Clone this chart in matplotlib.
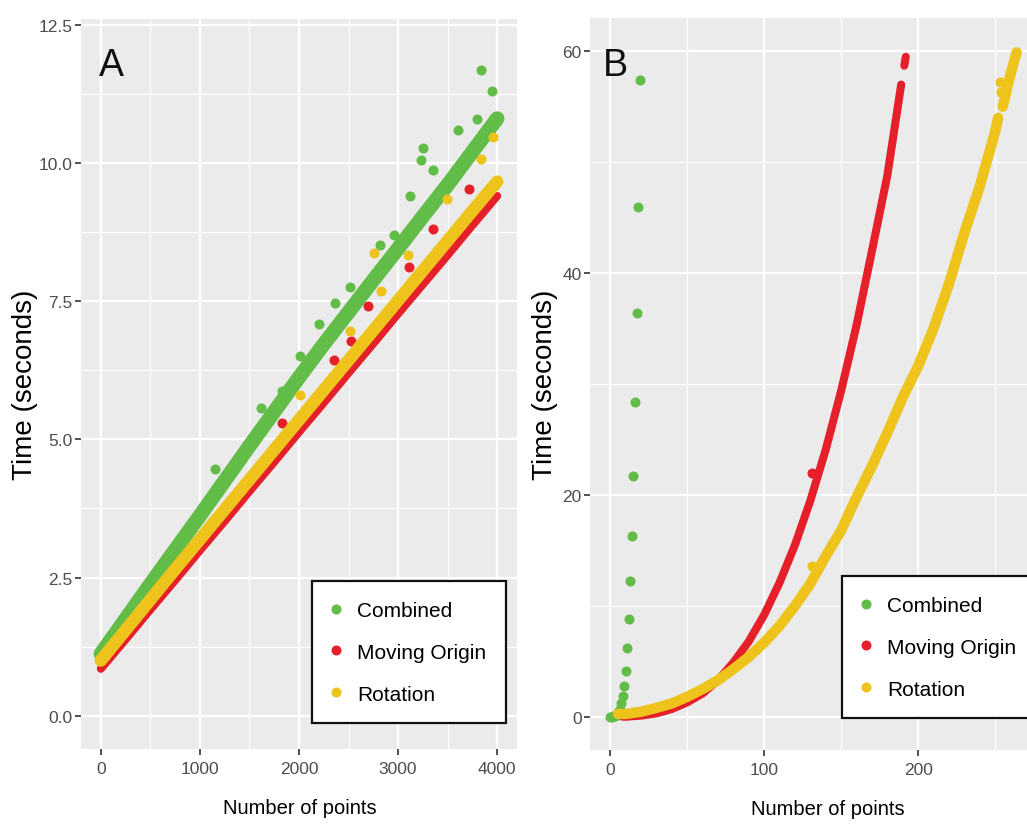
import matplotlib
matplotlib.use("Agg")
import matplotlib.pyplot as plt          # noqa: E402
from matplotlib.lines import Line2D      # noqa: E402
from matplotlib.ticker import FixedLocator  # noqa: E402

GREEN = "#62BD48"
RED = "#E5202A"
YELLOW = "#EDC31C"
PANEL = "#EBEBEB"
FONT = ["Liberation Sans", "DejaVu Sans"]

SERIES = ["Combined", "Moving Origin", "Rotation"]

# -- panel A: dense runs, read every 250 points along the middle of each band
a_x = [0, 250, 500, 750, 1000, 1250, 1500, 1750, 2000,
       2250, 2500, 2750, 3000, 3250, 3500, 3750, 4000]
a_combined = [1.12, 1.75, 2.38, 3.00, 3.62, 4.25, 4.88, 5.50, 6.12,
              6.72, 7.30, 7.88, 8.45, 9.03, 9.60, 10.20, 10.80]
a_moving = [0.85, 1.38, 1.92, 2.45, 2.99, 3.52, 4.06, 4.59, 5.13,
            5.66, 6.20, 6.73, 7.27, 7.80, 8.33, 8.87, 9.40]
a_rotation = [1.00, 1.55, 2.10, 2.65, 3.19, 3.73, 4.27, 4.81, 5.35,
              5.89, 6.43, 6.97, 7.51, 8.05, 8.59, 9.13, 9.66]

# stray points off the bands
a_comb_out_x = [1151, 1618, 1830, 2014, 2199, 2367, 2518, 2820, 2961,
                3122, 3229, 3256, 3357, 3601, 3800, 3834, 3944]
a_comb_out_y = [4.47, 5.57, 5.87, 6.51, 7.08, 7.47, 7.76, 8.52, 8.70,
                9.40, 10.05, 10.27, 9.87, 10.60, 10.79, 11.68, 11.29]
a_mov_out_x = [1830, 2349, 2528, 2692, 3115, 3349, 3716]
a_mov_out_y = [5.30, 6.44, 6.77, 7.41, 8.12, 8.80, 9.52]
a_rot_out_x = [2014, 2518, 2759, 2827, 3105, 3491, 3834, 3955]
a_rot_out_y = [5.81, 6.96, 8.36, 7.68, 8.34, 9.35, 10.06, 10.46]

# -- panel B
b_comb_x = [0, 1, 2, 3, 4, 5, 6, 7, 8, 9, 10,
            11, 12, 13, 14, 15, 16, 17, 18, 19]
b_comb_y = [0.0, 0.0, 0.05, 0.1, 0.2, 0.4, 0.7, 1.2, 1.9, 2.8, 4.1,
            6.2, 8.8, 12.25, 16.3, 21.7, 28.4, 36.4, 46.0, 57.4]

b_mov_x = [8, 10, 20, 30, 40, 50, 60, 70, 80, 90, 100, 110, 120,
           130, 140, 150, 160, 170, 180, 189]
b_mov_y = [0.0, 0.0, 0.1, 0.3, 0.7, 1.3, 2.1, 3.3, 4.9, 6.8, 9.2, 12.1,
           15.5, 19.5, 24.1, 29.4, 35.3, 42.0, 48.8, 57.0]
b_mov_top_x = [191, 192]
b_mov_top_y = [58.7, 59.5]
b_mov_out_x = [131]
b_mov_out_y = [22.0]

b_rot_x = [5, 10, 20, 30, 40, 50, 60, 70, 80, 90, 100, 110, 120, 130,
           140, 150, 160, 170, 180, 190, 200, 210, 220, 230, 240, 250, 252]
b_rot_y = [0.25, 0.25, 0.45, 0.8, 1.2, 1.8, 2.5, 3.3, 4.3, 5.4, 6.7, 8.2,
           10.0, 12.0, 14.5, 16.8, 19.8, 22.6, 25.6, 28.8, 31.6, 35.0,
           39.0, 43.6, 47.8, 52.7, 54.0]
b_rot_top_x = [255, 258, 261, 264]
b_rot_top_y = [55.0, 56.8, 58.4, 59.9]
b_rot_out_x = [131, 253, 254]
b_rot_out_y = [13.6, 57.2, 56.3]


def _style(ax, xlim, ylim, xmajor, xminor, ymajor, yminor, xlabels, ylabels):
    ax.set_facecolor(PANEL)
    for s in ax.spines.values():
        s.set_visible(False)
    ax.set_xlim(*xlim)
    ax.set_ylim(*ylim)
    ax.xaxis.set_major_locator(FixedLocator(xmajor))
    ax.xaxis.set_minor_locator(FixedLocator(xminor))
    ax.yaxis.set_major_locator(FixedLocator(ymajor))
    ax.yaxis.set_minor_locator(FixedLocator(yminor))
    ax.set_xticklabels(xlabels)
    ax.set_yticklabels(ylabels)
    ax.grid(which="major", color="white", lw=1.6)
    ax.grid(which="minor", color="white", lw=0.8)
    ax.set_axisbelow(True)
    ax.tick_params(which="major", length=4, width=1.2, color="#333333",
                   labelcolor="#4D4D4D", labelsize=12.5)
    ax.tick_params(axis="x", which="major", pad=5)
    ax.tick_params(axis="y", which="major", pad=2)
    ax.tick_params(which="minor", length=0)
    for lab in ax.get_xticklabels() + ax.get_yticklabels():
        lab.set_family(FONT)
    ax.set_xlabel("Number of points", family=FONT, fontsize=14.5)
    ax.set_ylabel("Time (seconds)", family=FONT, fontsize=20)


def _legend(fig, anchor):
    handles = [Line2D([0], [0], marker="o", ls="none", color=c, markersize=6.2)
               for c in (GREEN, RED, YELLOW)]
    leg = fig.legend(handles, SERIES, loc="upper left", bbox_to_anchor=anchor,
                     bbox_transform=fig.transFigure, borderaxespad=0,
                     prop={"family": FONT, "size": 15}, frameon=True,
                     fancybox=False, framealpha=1, edgecolor="#111111",
                     borderpad=0.95, handlelength=0.4, handletextpad=0.8,
                     labelspacing=1.1)
    leg.get_frame().set_linewidth(1.6)
    return leg


W, H = 1027, 829
fig = plt.figure(figsize=(W / 100, H / 100), dpi=100)

axA = fig.add_axes([81 / W, 1 - 750 / H, 436 / W, 730 / H])
axB = fig.add_axes([590 / W, 1 - 751 / H, 448.5 / W, 732 / H])

# panel A
axA.plot(a_x, a_combined, color=GREEN, lw=10.5, solid_capstyle="round", zorder=2)
axA.plot(a_comb_out_x, a_comb_out_y, "o", color=GREEN, ms=6.2, zorder=2)
axA.plot(a_x, a_moving, color=RED, lw=5.8, solid_capstyle="round", zorder=3)
axA.plot(a_mov_out_x, a_mov_out_y, "o", color=RED, ms=6.2, zorder=3)
axA.plot(a_x, a_rotation, color=YELLOW, lw=9.0, solid_capstyle="round", zorder=4)
axA.plot(a_rot_out_x, a_rot_out_y, "o", color=YELLOW, ms=6.2, zorder=4)
_style(axA, (-200, 4200), (-0.6, 12.6),
       [0, 1000, 2000, 3000, 4000], [500, 1500, 2500, 3500],
       [0, 2.5, 5, 7.5, 10, 12.5], [1.25, 3.75, 6.25, 8.75, 11.25],
       ["0", "1000", "2000", "3000", "4000"],
       ["0.0", "2.5", "5.0", "7.5", "10.0", "12.5"])
axA.yaxis.set_label_coords(-43 / 436, 0.5)
axA.xaxis.set_label_coords(219 / 436, -49 / 730)
axA.text(18 / 436, 674 / 730, "A", transform=axA.transAxes, family=FONT,
         fontsize=27, va="baseline", ha="left", color="#111111")

# panel B
axB.plot(b_comb_x, b_comb_y, "o", color=GREEN, ms=6.2, zorder=2)
axB.plot(b_mov_x, b_mov_y, color=RED, lw=5.8, solid_capstyle="round", zorder=3)
axB.plot(b_mov_top_x, b_mov_top_y, color=RED, lw=5.8, solid_capstyle="round",
         zorder=3)
axB.plot(b_mov_out_x, b_mov_out_y, "o", color=RED, ms=6.2, zorder=3)
axB.plot(b_rot_x, b_rot_y, color=YELLOW, lw=7.5, solid_capstyle="round", zorder=4)
axB.plot(b_rot_top_x, b_rot_top_y, color=YELLOW, lw=7.5, solid_capstyle="round",
         zorder=4)
axB.plot(b_rot_out_x, b_rot_out_y, "o", color=YELLOW, ms=6.2, zorder=4)
_style(axB, (-13.25, 278.25), (-3, 63),
       [0, 100, 200], [50, 150, 250],
       [0, 20, 40, 60], [10, 30, 50],
       ["0", "100", "200"], ["0", "20", "40", "60"])
axB.yaxis.set_label_coords(-32 / 448.5, 0.5)
axB.xaxis.set_label_coords(238 / 448.5, -49 / 732)
axB.text(13 / 448.5, 675 / 732, "B", transform=axB.transAxes, family=FONT,
         fontsize=27, va="baseline", ha="left", color="#111111")

_legend(fig, (312 / W, 1 - 582 / H))
_legend(fig, (842 / W, 1 - 577 / H))

fig.savefig("out.png", dpi=100, facecolor="white")
